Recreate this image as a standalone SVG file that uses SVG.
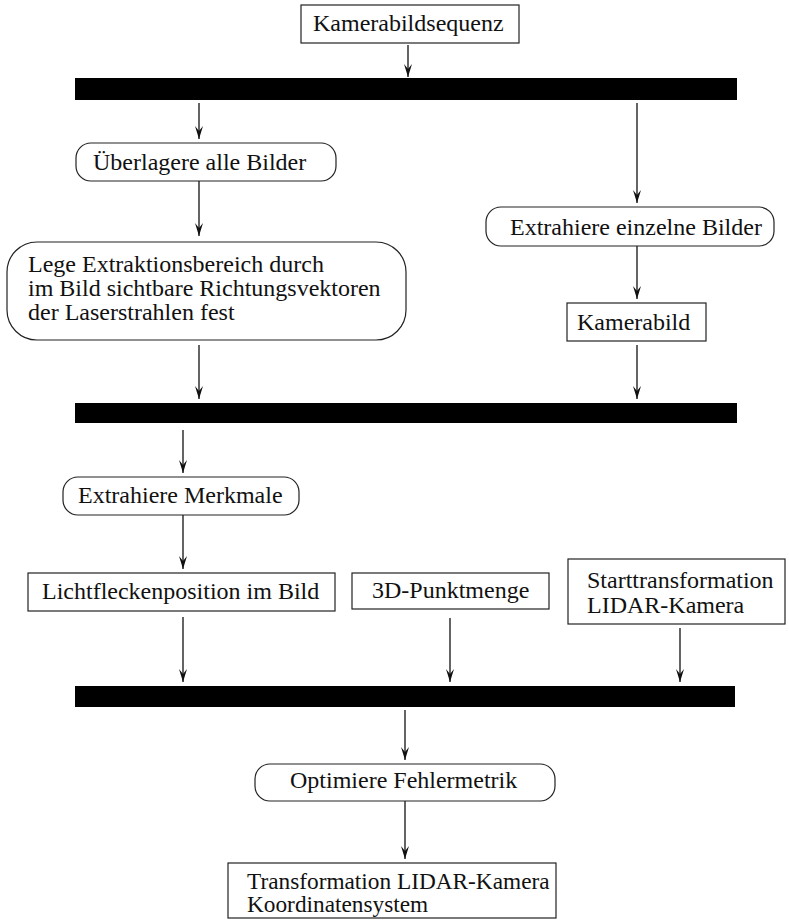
<svg xmlns="http://www.w3.org/2000/svg" width="789" height="920" viewBox="0 0 789 920">
<defs>
<style>
.box{fill:#fff;stroke:#222;stroke-width:1.2}
.bar{fill:#000}
.t{font-family:"Liberation Serif","Times New Roman",serif;font-size:24px;fill:#111}
.s{font-size:23.3px}
.c{stroke:#111;stroke-width:1.3;fill:none;marker-end:url(#ah)}
</style>
<marker id="ah" markerWidth="14" markerHeight="10" refX="13" refY="5" orient="auto" markerUnits="userSpaceOnUse" viewBox="0 0 14 10">
<path d="M0,1 L13,5 L0,9 L5,5 Z" fill="#111"/>
</marker>
</defs>
<rect width="789" height="920" fill="#fff"/>
<g id="bars">
<rect id="bar1" class="bar" x="75" y="78" width="662" height="22"/>
<rect id="bar2" class="bar" x="75" y="403" width="662" height="20"/>
<rect id="bar3" class="bar" x="75" y="686" width="660" height="21"/>
</g>
<g id="connectors">
<path class="c" d="M408,45 V77"/>
<path class="c" d="M199,103 V139"/>
<path class="c" d="M637,103 V203"/>
<path class="c" d="M199,181 V236"/>
<path class="c" d="M637,246 V299"/>
<path class="c" d="M199,345 V399"/>
<path class="c" d="M637,345 V399"/>
<path class="c" d="M183,430 V473"/>
<path class="c" d="M183,515 V569"/>
<path class="c" d="M183,617 V682"/>
<path class="c" d="M450,618 V682"/>
<path class="c" d="M680,628 V682"/>
<path class="c" d="M405,710 V760"/>
<path class="c" d="M405,801 V859"/>
</g>
<g id="n1"><rect class="box" x="301" y="5" width="218" height="38"/><text class="t" x="313" y="31">Kamerabildsequenz</text></g>
<g id="n2"><rect class="box" x="76" y="143" width="260" height="38" rx="15"/><text class="t" x="93" y="170">Überlagere alle Bilder</text></g>
<g id="n3"><rect class="box" x="7" y="242" width="399" height="98" rx="30"/><text class="t" x="28" y="272">Lege Extraktionsbereich durch</text><text class="t" x="28" y="296">im Bild sichtbare Richtungsvektoren</text><text class="t" x="28" y="320">der Laserstrahlen fest</text></g>
<g id="n4"><rect class="box" x="486" y="207" width="288" height="39" rx="15"/><text class="t" x="510" y="235">Extrahiere einzelne Bilder</text></g>
<g id="n5"><rect class="box" x="567" y="303" width="139" height="38"/><text class="t" x="577" y="330">Kamerabild</text></g>
<g id="n6"><rect class="box" x="63" y="477" width="236" height="38" rx="15"/><text class="t" x="78" y="503">Extrahiere Merkmale</text></g>
<g id="n7"><rect class="box" x="28" y="573" width="307" height="38"/><text class="t" x="42" y="599">Lichtfleckenposition im Bild</text></g>
<g id="n8"><rect class="box" x="352" y="573" width="197" height="36"/><text class="t" x="372" y="598">3D-Punktmenge</text></g>
<g id="n9"><rect class="box" x="568" y="559" width="217" height="65"/><text class="t" x="587" y="588">Starttransformation</text><text class="t" x="587" y="613">LIDAR-Kamera</text></g>
<g id="n10"><rect class="box" x="255" y="764" width="300" height="37" rx="15"/><text class="t" x="290" y="788">Optimiere Fehlermetrik</text></g>
<g id="n11"><rect class="box" x="228" y="863" width="328" height="55"/><text class="t s" x="247" y="889">Transformation LIDAR-Kamera</text><text class="t s" x="247" y="912">Koordinatensystem</text></g>
</svg>
